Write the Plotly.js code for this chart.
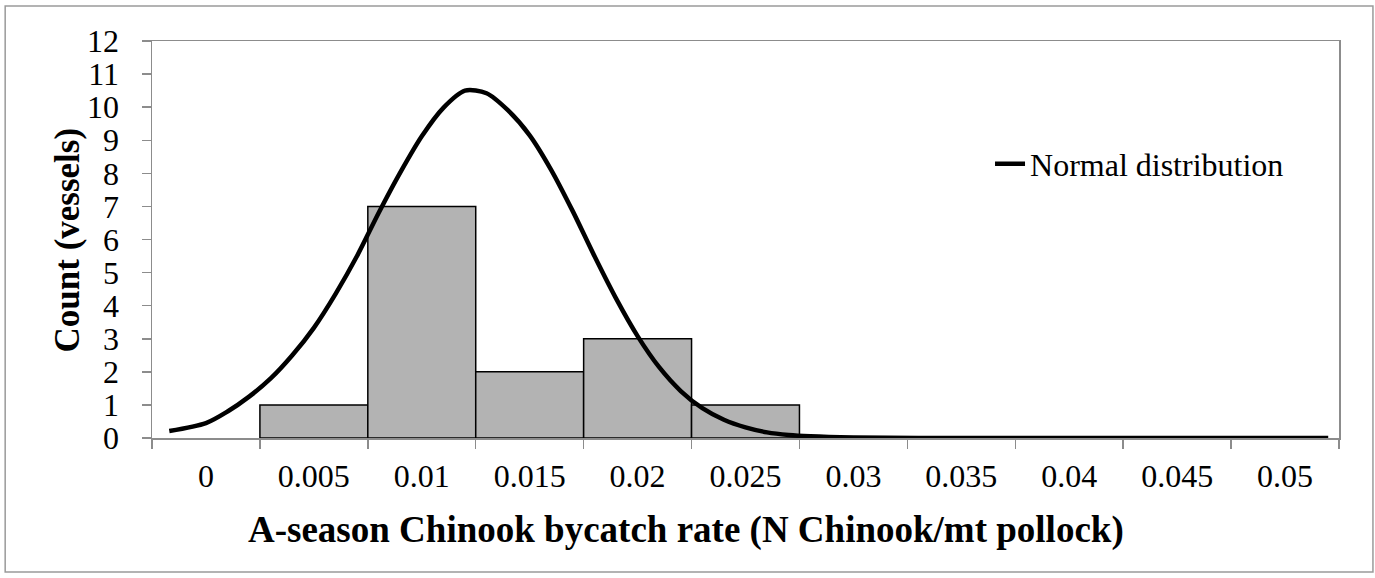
<!DOCTYPE html>
<html>
<head>
<meta charset="utf-8">
<script src="https://cdn.plot.ly/plotly-3.0.1.min.js"></script>
<style>
  html, body { margin: 0; padding: 0; background: #fff; }
  #chart { width: 1375px; height: 578px; }
</style>
</head>
<body>
<div id="chart"></div>
<script>
// Histogram bins (category labels) and vessel counts
const binLabels = ["0", "0.005", "0.01", "0.015", "0.02", "0.025", "0.03", "0.035", "0.04", "0.045", "0.05"];
const counts = [0, 1, 7, 2, 3, 1, 0, 0, 0, 0, 0];

// Normal distribution curve (rate, count)
const normalX = [-0.0017, 0.0000, 0.0010, 0.0020, 0.0030, 0.0040, 0.0050, 0.0060, 0.0070, 0.0080,
                 0.0090, 0.0100, 0.0110, 0.0120, 0.0130, 0.0140, 0.0150, 0.0160, 0.0170,
                 0.0180, 0.0190, 0.0200, 0.0210, 0.0220, 0.0230, 0.0240, 0.0250, 0.0260, 0.0270,
                 0.0280, 0.0300, 0.0330, 0.0360, 0.0400, 0.0450, 0.0520];
const normalY = [0.21, 0.45, 0.80, 1.25, 1.80, 2.50, 3.33, 4.35, 5.50, 6.80,
                 8.02, 9.12, 9.98, 10.50, 10.42, 9.90, 9.15, 8.10, 6.85,
                 5.50, 4.22, 3.08, 2.14, 1.42, 0.90, 0.55, 0.32, 0.17, 0.09,
                 0.05, 0.015, 0.003, 0.00, 0.00, 0.00, 0.00];

const binWidth = 0.005;
const fontFam = '"Liberation Serif", "Times New Roman", serif';
const axisGray = '#8c8c8c';
const xTitle = 'A-season Chinook bycatch rate (N Chinook/mt pollock)';
const yTitle = 'Count (vessels)';

const traces = [
  {
    type: 'bar',
    x: binLabels,
    y: counts.map(v => v === 0 ? null : v),
    marker: { color: '#b3b3b3', line: { color: '#000000', width: 1.5 } },
    showlegend: false,
    hoverinfo: 'x+y'
  },
  {
    type: 'scatter',
    mode: 'lines',
    x: normalX,
    y: normalY,
    xaxis: 'x2',
    yaxis: 'y',
    name: 'Normal distribution',
    line: { color: '#000000', width: 4.5, shape: 'spline', smoothing: 0.8 },
    showlegend: true
  }
];

const layout = {
  width: 1375,
  height: 578,
  margin: { l: 152, r: 36, t: 41, b: 140 },
  paper_bgcolor: '#ffffff',
  plot_bgcolor: '#ffffff',
  bargap: 0,
  font: { family: fontFam, color: '#000000', size: 32 },
  xaxis: {
    type: 'category',
    tickson: 'boundaries',
    ticks: 'outside',
    ticklen: 9,
    tickwidth: 1.5,
    tickcolor: axisGray,
    showline: true,
    linecolor: axisGray,
    linewidth: 1.5,
    mirror: true,
    showgrid: false,
    zeroline: false,
    range: [-0.5, 10.5],
    tickfont: { family: fontFam, size: 32, color: '#000' },
    ticklabelstandoff: 9
  },
  xaxis2: {
    type: 'linear',
    overlaying: 'x',
    range: [-binWidth / 2, binWidth * (binLabels.length - 0.5)],
    visible: false
  },
  yaxis: {
    range: [0, 12],
    dtick: 1,
    ticks: 'outside',
    ticklen: 9,
    tickwidth: 1.5,
    tickcolor: axisGray,
    showline: true,
    linecolor: axisGray,
    linewidth: 1.5,
    mirror: true,
    showgrid: false,
    zeroline: false,
    tickfont: { family: fontFam, size: 32, color: '#000' },
    ticklabelstandoff: 16
  },
  legend: {
    x: 0.706,
    y: 0.69,
    xanchor: 'left',
    yanchor: 'middle',
    bgcolor: 'rgba(0,0,0,0)',
    font: { family: fontFam, size: 32, color: '#000' }
  },
  annotations: [
    {
      text: '<b>' + xTitle + '</b>', xref: 'paper', yref: 'paper',
      x: 0.45, y: -0.232, xanchor: 'center', yanchor: 'middle', showarrow: false,
      font: { family: fontFam, size: 37, color: '#000' }
    },
    {
      text: '<b>' + yTitle + '</b>', xref: 'paper', yref: 'paper',
      x: -0.0708, y: 0.5, xanchor: 'center', yanchor: 'middle', showarrow: false,
      textangle: -90,
      font: { family: fontFam, size: 35, color: '#000' }
    }
  ],
  shapes: [
    {
      type: 'rect', xref: 'paper', yref: 'paper',
      x0: -0.1237, x1: 1.0286, y0: -0.3375, y1: 1.0882,
      line: { color: '#9a9a9a', width: 1.5 }, fillcolor: 'rgba(0,0,0,0)'
    }
  ]
};

Plotly.newPlot('chart', traces, layout, { displayModeBar: false, staticPlot: true });
</script>
</body>
</html>
